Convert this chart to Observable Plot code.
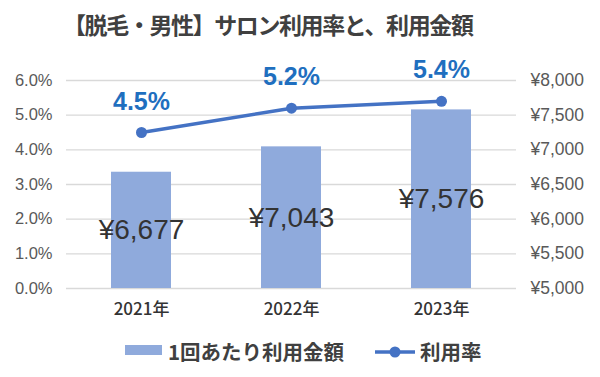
<!DOCTYPE html>
<html><head><meta charset="utf-8">
<script src="https://cdn.jsdelivr.net/npm/d3@7"></script>
<script src="https://cdn.jsdelivr.net/npm/@observablehq/plot@0.6"></script>
<style>
body{margin:0;background:#fff;width:600px;height:377px;overflow:hidden;position:relative;font-family:"Noto Sans CJK JP",sans-serif;}
#title{position:absolute;left:63px;top:7px;white-space:nowrap;font-weight:700;font-size:23px;color:#404040;letter-spacing:-1.4px;}
#chart{position:absolute;left:0;top:48px;}
.lg{position:absolute;font-weight:700;font-size:20.5px;color:#404040;white-space:nowrap;line-height:1;}
</style></head>
<body>
<div id="title">【脱毛・男性】サロン利用率と、利用金額</div>
<div id="chart"></div>
<div id="legend"></div>
<script>
const years = ["2021年", "2022年", "2023年"];
const rates = [4.5, 5.2, 5.4];
const amounts = [6677, 7043, 7576];
const pctTicks = [0, 1, 2, 3, 4, 5, 6];
const yenTicks = [5000, 5500, 6000, 6500, 7000, 7500, 8000];
const legendLabels = ["1回あたり利用金額", "利用率"];

const yenMin = 5000, yenMax = 8000, pctMax = 6;
const toPct = v => (v - yenMin) / (yenMax - yenMin) * pctMax;
const toYen = p => yenMin + p / pctMax * (yenMax - yenMin);
const fmt = d3.format(",");
const data = years.map((y, i) => ({year: y, rate: rates[i], amount: amounts[i]}));

const barColor = "#8faadc", lineColor = "#4472c4";

const chart = Plot.plot({
  width: 600, height: 282,
  marginTop: 32, marginBottom: 42, marginLeft: 66, marginRight: 84,
  x: {domain: years, padding: 0, label: null},
  y: {domain: [0, pctMax], label: null},
  style: {fontFamily: "'Liberation Sans', Arial, sans-serif", background: "transparent"},
  marks: [
    Plot.gridY(pctTicks, {stroke: "#d9d9d9", strokeOpacity: 1, strokeWidth: 1.3}),
    Plot.barY(data, {x: "year", y1: () => toPct(yenMin), y2: d => toPct(d.amount), fill: barColor, insetLeft: 45, insetRight: 45}),
    Plot.lineY(data, {x: "year", y: "rate", stroke: lineColor, strokeWidth: 3.5}),
    Plot.dot(data, {x: "year", y: "rate", r: 5.5, fill: lineColor}),
    Plot.text(data, {x: "year", y: "rate", text: d => d.rate.toFixed(1) + "%", dy: -31, fontSize: 25, fontWeight: "bold", fill: "#1f6fbf"}),
    Plot.text(data, {x: "year", y: d => toPct((yenMin + d.amount) / 2), text: d => "¥" + fmt(d.amount), fontSize: 28, fill: "#333333"}),
    Plot.axisY(pctTicks, {anchor: "left", tickSize: 0, tickPadding: 14, tickFormat: d => d.toFixed(1) + "%", fontSize: 16.5, fill: "#595959"}),
    Plot.axisY(yenTicks.map(toPct), {anchor: "right", tickSize: 0, tickPadding: 14, tickFormat: p => "¥" + fmt(Math.round(toYen(p))), fontSize: 17.5, fill: "#595959"}),
    Plot.axisX({tickSize: 0, tickPadding: 14, fontSize: 17, fontWeight: 500, fill: "#333333", fontFamily: "'Noto Sans CJK JP', sans-serif"})
  ]
});
document.getElementById("chart").appendChild(chart);

// legend
const lg = document.getElementById("legend");
lg.innerHTML = `
<div style="position:absolute;left:125px;top:345px;width:37px;height:10px;background:${barColor}"></div>
<div class="lg" style="left:168px;top:341px">${legendLabels[0]}</div>
<svg style="position:absolute;left:372px;top:340px" width="46" height="24"><line x1="3" x2="43" y1="12" y2="12" stroke="${lineColor}" stroke-width="3.5"/><circle cx="23" cy="12" r="5.5" fill="${lineColor}"/></svg>
<div class="lg" style="left:420px;top:341px">${legendLabels[1]}</div>`;
</script>
</body></html>
